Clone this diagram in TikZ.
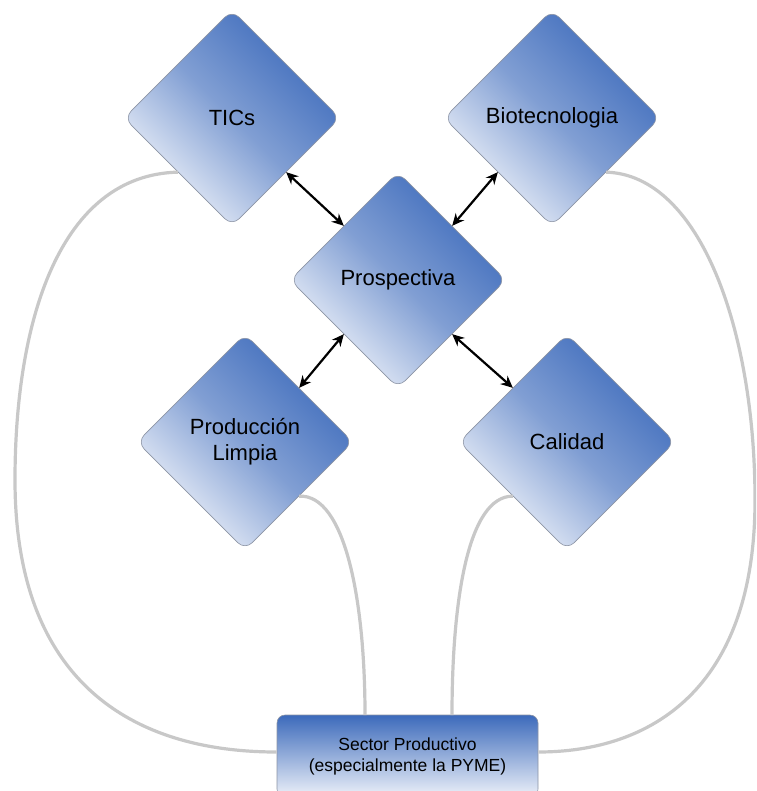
\documentclass[tikz,border=0pt]{standalone}
\usepackage{fontspec}
\setmainfont{Liberation Sans}
\usetikzlibrary{shapes.geometric,arrows.meta}
\definecolor{dblue}{RGB}{60,106,187}
\definecolor{lblue}{RGB}{242,245,251}
\definecolor{sblue}{RGB}{225,232,245}
\definecolor{bgray}{RGB}{140,148,165}
\definecolor{cgray}{RGB}{200,200,200}
\tikzset{
  dia/.style={diamond, minimum width=216pt, minimum height=216pt, inner sep=0pt,
    rounded corners=10pt, draw=bgray, line width=0.6pt,
    top color=dblue, bottom color=lblue, middle color=dblue!62!lblue, shading angle=-45,
    font=\fontsize{22}{26}\selectfont, align=center, text=black},
  sector/.style={rectangle, minimum width=261pt, minimum height=82pt, inner sep=0pt,
    rounded corners=8pt, draw=bgray, line width=0.6pt,
    top color=dblue, bottom color=sblue!60!white,
    font=\fontsize{17.5}{21}\selectfont, align=center, text=black},
  arr/.style={{Stealth[length=12pt,width=11pt]}-{Stealth[length=12pt,width=11pt]}, line width=2.2pt, black},
  link/.style={cgray, line width=3.2pt}
}
\begin{document}
\begin{tikzpicture}[x=1pt,y=-1pt]
\useasboundingbox (0,0) rectangle (756,791);
\clip (0,0) rectangle (756,791);
\fill[white] (0,0) rectangle (756,791);
\node[dia] (TICs) at (232,118) {TICs};
\node[dia] (Bio) at (552,118) {Biotecnologia};
\node[dia] (Prosp) at (398,280) {Prospectiva};
\node[dia] (Prod) at (245,442) {Producción\\Limpia};
\node[dia] (Cal) at (567,442) {Calidad};
\node[sector] (Sector) at (407.5,756) {Sector Productivo\\(especialmente la PYME)};
\coordinate (sA) at (365,715);
\coordinate (sB) at (452,715);
\draw[arr] (TICs.south east) -- (Prosp.north west);
\draw[arr] (Bio.south west) -- (Prosp.north east);
\draw[arr] (Prosp.south west) -- (Prod.north east);
\draw[arr] (Prosp.south east) -- (Cal.north west);
\draw[link] (TICs.south west) .. controls (60,175) and (15,320) .. (15,480)
  .. controls (15,680) and (130,752) .. (Sector.west |- 0,752);
\draw[link] (Bio.south east) .. controls (700,175) and (755,330) .. (755,500)
  .. controls (755,690) and (650,752) .. (Sector.east |- 0,752);
\draw[link] (Prod.south east) .. controls (345,494) and (365,600) .. (sA);
\draw[link] (Cal.south west) .. controls (468,496) and (452,600) .. (sB);
\end{tikzpicture}
\end{document}
